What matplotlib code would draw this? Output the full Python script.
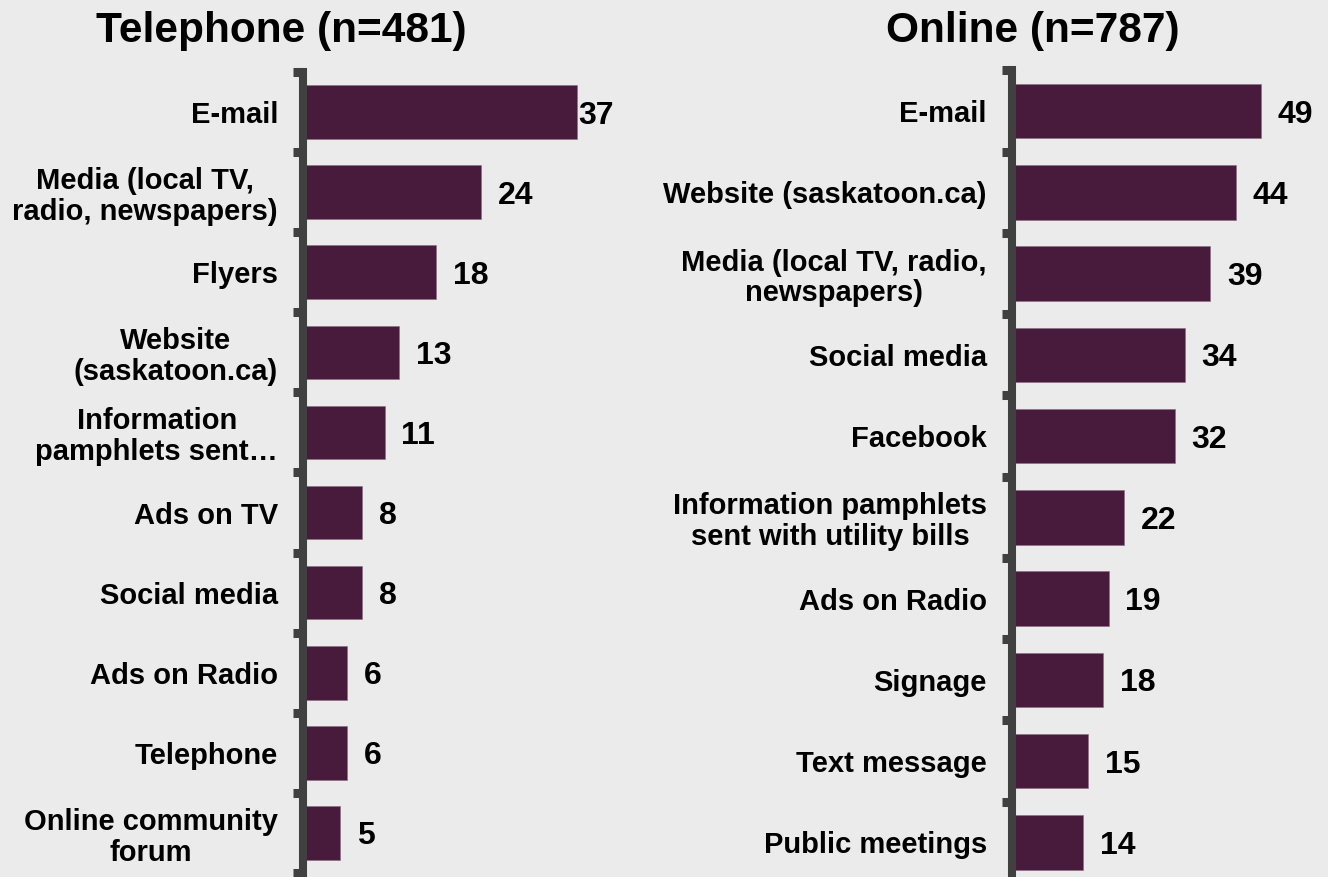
import matplotlib.pyplot as plt

plt.rcParams['font.family'] = ['Liberation Sans', 'DejaVu Sans']
plt.rcParams['font.weight'] = 'bold'

# Telephone survey
tel_labels = ["E-mail", "Media (local TV,\nradio, newspapers)", "Flyers",
              "Website\n(saskatoon.ca)", "Information\npamphlets sent\u2026",
              "Ads on TV", "Social media", "Ads on Radio", "Telephone",
              "Online community\nforum"]
tel_values = [37, 24, 18, 13, 11, 8, 8, 6, 6, 5]

# Online survey
web_labels = ["E-mail", "Website (saskatoon.ca)",
              "Media (local TV, radio,\nnewspapers)", "Social media", "Facebook",
              "Information pamphlets\nsent with utility bills", "Ads on Radio",
              "Signage", "Text message", "Public meetings"]
web_values = [49, 44, 39, 34, 32, 22, 19, 18, 15, 14]

bg = "#EBEBEB"
bar_color = "#481A3C"
spine_color = "#404040"

fig = plt.figure(figsize=(13.28, 8.77), dpi=100, facecolor=bg)
ax1 = fig.add_axes([0.2282, 0.0046, 0.2309, 0.9133])
ax2 = fig.add_axes([0.7620, -0.0068, 0.2071, 0.9265])


def draw_panel(ax, labels, values, xmax, tight_max=False):
    ax.set_facecolor(bg)
    pos = list(range(len(values)))
    ax.barh(pos, values, height=0.67, color=bar_color,
            edgecolor="#8a6a80", linewidth=0.4)
    ax.set_xlim(0, xmax)
    ax.set_ylim(len(values) - 0.5, -0.5)
    for s in ["top", "right", "bottom"]:
        ax.spines[s].set_visible(False)
    ax.spines["left"].set_color(spine_color)
    ax.spines["left"].set_linewidth(5.8)
    ax.set_xticks([])
    ax.set_yticks(pos)
    ax.set_yticklabels(labels, fontsize=21, fontweight="bold",
                       multialignment="center", linespacing=1.12)
    ax.set_yticks([p - 0.5 for p in pos] + [len(pos) - 0.5], minor=True)
    ax.tick_params(axis="y", which="major", length=0, pad=18)
    ax.tick_params(axis="y", which="minor", direction="out", length=7,
                   width=6.5, color=spine_color)
    for p, v in zip(pos, values):
        pad = 1 if (tight_max and v == max(values)) else 12
        ax.annotate(str(v), (v, p), xytext=(pad, 0), textcoords="offset points",
                    ha="left", va="center_baseline", fontsize=23,
                    fontweight="bold", annotation_clip=False)


draw_panel(ax1, tel_labels, tel_values, 41.4, tight_max=True)
draw_panel(ax2, web_labels, web_values, 54.1)

fig.text(281 / 1328, 1 - 42 / 877, "Telephone (n=481)", ha="center",
         va="baseline", fontsize=30.5, fontweight="bold")
fig.text(1033 / 1328, 1 - 42 / 877, "Online (n=787)", ha="center",
         va="baseline", fontsize=30.5, fontweight="bold")

fig.savefig("out.png", dpi=100, facecolor=bg)
